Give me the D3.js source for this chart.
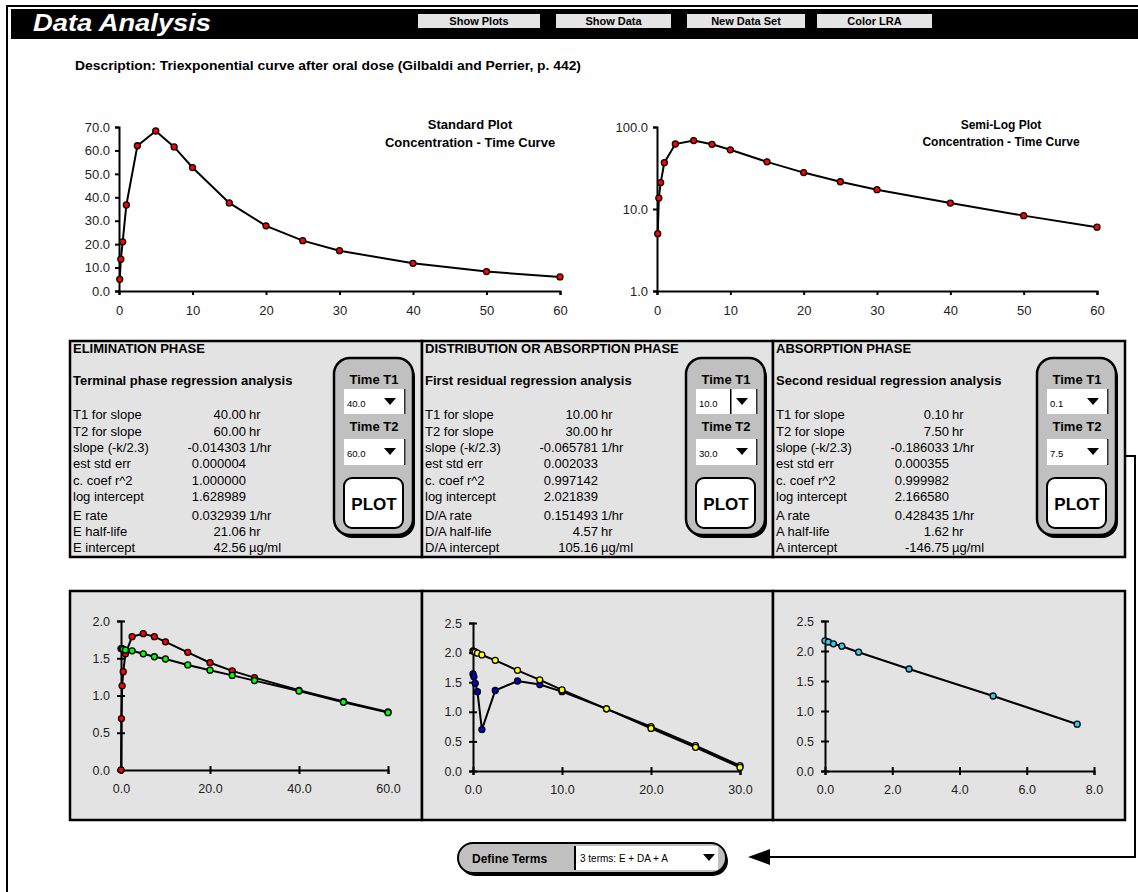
<!DOCTYPE html>
<html>
<head>
<meta charset="utf-8">
<script src="https://cdn.jsdelivr.net/npm/d3@7"></script>
<style>
  body { margin: 0; background: #fff; }
  text { font-family: Arial, "Liberation Sans", sans-serif; }
</style>
</head>
<body>
<script>
// sampling times (hr) and measured concentrations
var times = [0, 0.1, 0.25, 0.5, 1, 2.5, 5, 7.5, 10, 15, 20, 25, 30, 40, 50, 60];
var conc = [0, 5.0, 13.6, 21.0, 36.7, 62.0, 68.3, 61.5, 52.7, 37.6, 27.8, 21.5, 17.2, 11.8, 8.3, 6.0];

// log plots (bottom row)
var logConc = [0, 0.69, 1.13, 1.32, 1.56, 1.79, 1.83, 1.79, 1.72, 1.58, 1.44, 1.33, 1.24, 1.07, 0.92, 0.78];
var elimLine = [1.63, 1.63, 1.63, 1.62, 1.61, 1.60, 1.56, 1.52, 1.49, 1.41, 1.34, 1.27, 1.20, 1.06, 0.91, 0.77];

var distTimes = [0, 0.1, 0.25, 0.5, 1, 2.5, 5, 7.5, 10, 15, 20, 25, 30];
var distLine = [2.03, 2.02, 2.01, 1.99, 1.96, 1.87, 1.70, 1.54, 1.37, 1.05, 0.72, 0.40, 0.06];
var distResid = [1.64, 1.59, 1.48, 1.34, 0.70, 1.36, 1.52, 1.46, 1.34, 1.05, 0.75, 0.43, 0.09];

var absTimes = [0, 0.1, 0.25, 0.5, 1, 2.5, 5, 7.5];
var absResid = [2.17, 2.15, 2.12, 2.08, 1.98, 1.70, 1.25, 0.78];

// header buttons
var buttons = ["Show Plots", "Show Data", "New Data Set", "Color LRA"];

// regression panels
var rowLabels = ["T1 for slope", "T2 for slope", "slope (-k/2.3)", "est std err", "c. coef r^2", "log intercept"];
var panelTitles = ["ELIMINATION PHASE", "DISTRIBUTION OR ABSORPTION PHASE", "ABSORPTION PHASE"];
var panelSubtitles = ["Terminal phase regression analysis", "First residual regression analysis", "Second residual regression analysis"];
var panelPrefix = ["E", "D/A", "A"];
var elimValues = ["40.00", "60.00", "-0.014303", "0.000004", "1.000000", "1.628989", "0.032939", "21.06", "42.56"];
var distValues = ["10.00", "30.00", "-0.065781", "0.002033", "0.997142", "2.021839", "0.151493", "4.57", "105.16"];
var absValues = ["0.10", "7.50", "-0.186033", "0.000355", "0.999982", "2.166580", "0.428435", "1.62", "-146.75"];
var rowUnits = ["hr", "hr", "1/hr", "", "", "", "1/hr", "hr", "\u00b5g/ml"];
var t1Choices = ["40.0", "10.0", "0.1"];
var t2Choices = ["60.0", "30.0", "7.5"];

var svg = d3.select("body").append("svg")
    .attr("width", 1138)
    .attr("height", 892);

// ---- frame & header
svg.append("rect").attr("x", 6).attr("y", 5).attr("width", 1132).attr("height", 2).attr("fill", "#000");
svg.append("rect").attr("x", 6).attr("y", 5).attr("width", 2).attr("height", 887).attr("fill", "#000");
svg.append("rect").attr("x", 11).attr("y", 9).attr("width", 1127).attr("height", 30).attr("fill", "#000");
svg.append("text").attr("x", 33).attr("y", 31)
    .attr("fill", "#fff").attr("font-size", 24).attr("font-weight", "bold").attr("font-style", "italic")
    .attr("textLength", 178).attr("lengthAdjust", "spacingAndGlyphs")
    .text("Data Analysis");

var btnX = [418, 556, 687, 817];
var btnW = [122, 115, 118, 115];
buttons.forEach(function (b, i) {
    svg.append("rect").attr("x", btnX[i]).attr("y", 14).attr("width", btnW[i]).attr("height", 14).attr("fill", "#e4e4e4");
    svg.append("text").attr("x", btnX[i] + btnW[i] / 2).attr("y", 25)
        .attr("text-anchor", "middle").attr("font-size", 11).attr("font-weight", "bold")
        .text(b);
});

svg.append("text").attr("x", 75).attr("y", 70)
    .attr("font-size", 12).attr("font-weight", "bold")
    .attr("textLength", 506).attr("lengthAdjust", "spacingAndGlyphs")
    .text("Description:  Triexponential curve after oral dose (Gilbaldi and Perrier, p. 442)");

// ---- helpers
function styleAxis(g, size) {
    g.select(".domain").attr("stroke", "#000").attr("stroke-width", 2);
    g.selectAll(".tick line").attr("stroke", "#000").attr("stroke-width", 2);
    g.selectAll(".tick text").attr("font-size", size).attr("fill", "#222")
        .attr("font-family", "Arial, 'Liberation Sans', sans-serif");
}

function drawSeries(xs, ys, x, y, fill) {
    var pts = xs.map(function (t, i) { return [t, ys[i]]; });
    svg.append("path")
        .datum(pts)
        .attr("fill", "none")
        .attr("stroke", "#000")
        .attr("stroke-width", 2)
        .attr("d", d3.line().x(function (d) { return x(d[0]); }).y(function (d) { return y(d[1]); }));
    svg.append("g").selectAll("circle")
        .data(pts)
        .enter()
        .append("circle")
        .attr("cx", function (d) { return x(d[0]); })
        .attr("cy", function (d) { return y(d[1]); })
        .attr("r", 3)
        .attr("fill", typeof fill === "function" ? fill : function () { return fill; })
        .attr("stroke", "#000")
        .attr("stroke-width", 1.3);
}

// ---- top-left standard plot
var posT = times.filter(function (t, i) { return conc[i] > 0; });
var posC = conc.filter(function (c) { return c > 0; });

var x1 = d3.scaleLinear().domain([0, 60]).range([119, 560]);
var y1 = d3.scaleLinear().domain([0, 70]).range([291, 127]);
svg.append("g").attr("transform", "translate(0,291)")
    .call(d3.axisBottom(x1).tickValues([0, 10, 20, 30, 40, 50, 60]).tickFormat(d3.format("d")).tickSize(4).tickPadding(11))
    .call(styleAxis, 13);
svg.append("g").attr("transform", "translate(119,0)")
    .call(d3.axisLeft(y1).tickValues(d3.range(0, 71, 10)).tickFormat(d3.format(".1f")).tickSize(4).tickPadding(5))
    .call(styleAxis, 13);
drawSeries(posT, posC, x1, y1, "#ff0000");
svg.append("text").attr("x", 470).attr("y", 129).attr("text-anchor", "middle")
    .attr("font-size", 13).attr("font-weight", "bold").text("Standard Plot");
svg.append("text").attr("x", 470).attr("y", 147).attr("text-anchor", "middle")
    .attr("font-size", 13).attr("font-weight", "bold").text("Concentration - Time Curve");

// ---- top-right semi-log plot
var x2 = d3.scaleLinear().domain([0, 60]).range([657, 1097]);
var y2 = d3.scaleLog().domain([1, 100]).range([291, 127]);
svg.append("g").attr("transform", "translate(0,291)")
    .call(d3.axisBottom(x2).tickValues([0, 10, 20, 30, 40, 50, 60]).tickFormat(d3.format("d")).tickSize(4).tickPadding(11))
    .call(styleAxis, 13);
svg.append("g").attr("transform", "translate(657,0)")
    .call(d3.axisLeft(y2).tickValues([1, 10, 100]).tickFormat(d3.format(".1f")).tickSize(4).tickPadding(5))
    .call(styleAxis, 13);
drawSeries(posT, posC, x2, y2, "#ff0000");
svg.append("text").attr("x", 1001).attr("y", 129).attr("text-anchor", "middle")
    .attr("font-size", 12).attr("font-weight", "bold").text("Semi-Log Plot");
svg.append("text").attr("x", 1001).attr("y", 146).attr("text-anchor", "middle")
    .attr("font-size", 12).attr("font-weight", "bold").text("Concentration - Time Curve");

// ---- regression panels
var panelX = [70, 422, 773];
var panelW = [352, 351, 352];
var rowY = [419, 436, 452, 468, 485, 501, 520, 536, 552];
var allValues = [elimValues, distValues, absValues];

function triangle(cx, cy) {
    svg.append("polygon")
        .attr("points", [[cx - 6, cy - 3], [cx + 6, cy - 3], [cx, cy + 4]].join(" "))
        .attr("fill", "#000");
}

panelX.forEach(function (px, p) {
    svg.append("rect").attr("x", px).attr("y", 341).attr("width", panelW[p]).attr("height", 216)
        .attr("fill", "#e3e3e3").attr("stroke", "#000").attr("stroke-width", 2.5);
    svg.append("text").attr("x", px + 3).attr("y", 353).attr("font-size", 13).attr("font-weight", "bold")
        .text(panelTitles[p]);
    svg.append("text").attr("x", px + 3).attr("y", 385).attr("font-size", 13).attr("font-weight", "bold")
        .text(panelSubtitles[p]);
    var labels = rowLabels.concat([panelPrefix[p] + " rate", panelPrefix[p] + " half-life", panelPrefix[p] + " intercept"]);
    labels.forEach(function (l, r) {
        svg.append("text").attr("x", px + 3).attr("y", rowY[r]).attr("font-size", 13).text(l);
        svg.append("text").attr("x", px + 176).attr("y", rowY[r]).attr("font-size", 13)
            .attr("text-anchor", "end").text(allValues[p][r]);
        if (rowUnits[r]) {
            svg.append("text").attr("x", px + 179).attr("y", rowY[r]).attr("font-size", 13).text(rowUnits[r]);
        }
    });

    // control box
    var cx = px + 264;
    svg.append("rect").attr("x", cx + 2).attr("y", 361).attr("width", 79).attr("height", 177).attr("rx", 16)
        .attr("fill", "#000");
    svg.append("rect").attr("x", cx).attr("y", 358).attr("width", 79).attr("height", 177).attr("rx", 16)
        .attr("fill", "#c0c0c0").attr("stroke", "#000").attr("stroke-width", 2.5);
    svg.append("text").attr("x", cx + 40).attr("y", 384).attr("text-anchor", "middle")
        .attr("font-size", 13).attr("font-weight", "bold").text("Time T1");
    svg.append("rect").attr("x", cx + 10).attr("y", 389).attr("width", 60).attr("height", 25).attr("fill", "#fff");
    svg.append("rect").attr("x", cx + 70).attr("y", 389).attr("width", 1.5).attr("height", 25).attr("fill", "#333");
    svg.append("text").attr("x", cx + 13).attr("y", 407).attr("font-size", 9.5).text(t1Choices[p]);
    triangle(cx + 56, 401);
    if (p === 1) {
        svg.append("rect").attr("x", cx + 44).attr("y", 389).attr("width", 1.5).attr("height", 25).attr("fill", "#000");
    }
    svg.append("text").attr("x", cx + 40).attr("y", 431).attr("text-anchor", "middle")
        .attr("font-size", 13).attr("font-weight", "bold").text("Time T2");
    svg.append("rect").attr("x", cx + 10).attr("y", 439).attr("width", 60).attr("height", 26).attr("fill", "#fff");
    svg.append("rect").attr("x", cx + 70).attr("y", 439).attr("width", 1.5).attr("height", 26).attr("fill", "#333");
    svg.append("text").attr("x", cx + 13).attr("y", 457).attr("font-size", 9.5).text(t2Choices[p]);
    triangle(cx + 56, 451);
    svg.append("rect").attr("x", cx + 10).attr("y", 478).attr("width", 59).attr("height", 50).attr("rx", 8)
        .attr("fill", "#fff").attr("stroke", "#000").attr("stroke-width", 2);
    svg.append("text").attr("x", cx + 40).attr("y", 510).attr("text-anchor", "middle")
        .attr("font-size", 17).attr("font-weight", "bold").text("PLOT");
});

// ---- bottom log panels
panelX.forEach(function (px, p) {
    svg.append("rect").attr("x", px).attr("y", 591).attr("width", panelW[p]).attr("height", 229)
        .attr("fill", "#e3e3e3").attr("stroke", "#000").attr("stroke-width", 2.5);
});

function logAxes(x, y, xt, yt, y0, x0) {
    var gx = svg.append("g").attr("transform", "translate(0," + y0 + ")")
        .call(d3.axisBottom(x).tickValues(xt).tickFormat(d3.format(".1f")).tickSize(4).tickPadding(10))
        .call(styleAxis, 12.5);
    gx.selectAll(".tick line").attr("y1", -4);
    var gy = svg.append("g").attr("transform", "translate(" + x0 + ",0)")
        .call(d3.axisLeft(y).tickValues(yt).tickFormat(d3.format(".1f")).tickSize(4).tickPadding(7))
        .call(styleAxis, 12.5);
    gy.selectAll(".tick line").attr("x1", 4);
}

var xb1 = d3.scaleLinear().domain([0, 60]).range([121, 388]);
var yb1 = d3.scaleLinear().domain([0, 2]).range([770, 621]);
logAxes(xb1, yb1, [0, 20, 40, 60], [0, 0.5, 1, 1.5, 2], 770, 121);
drawSeries(times, logConc, xb1, yb1, "#ff0000");
drawSeries(times, elimLine, xb1, yb1, "#00ff00");

var xb2 = d3.scaleLinear().domain([0, 30]).range([473, 740]);
var yb2 = d3.scaleLinear().domain([0, 2.5]).range([771, 623]);
logAxes(xb2, yb2, [0, 10, 20, 30], [0, 0.5, 1, 1.5, 2, 2.5], 771, 473);
drawSeries(distTimes, distResid, xb2, yb2, function (d) { return d[0] <= 10 ? "#0000cc" : "#ffff00"; });
drawSeries(distTimes, distLine, xb2, yb2, "#ffff00");

var xb3 = d3.scaleLinear().domain([0, 8]).range([825, 1094]);
var yb3 = d3.scaleLinear().domain([0, 2.5]).range([771, 621]);
logAxes(xb3, yb3, [0, 2, 4, 6, 8], [0, 0.5, 1, 1.5, 2, 2.5], 771, 825);
drawSeries(absTimes, absResid, xb3, yb3, "#33ccee");

// ---- define terms control & arrow
svg.append("rect").attr("x", 460).attr("y", 846).attr("width", 268).attr("height", 30).attr("rx", 15).attr("fill", "#000");
svg.append("rect").attr("x", 458).attr("y", 843).attr("width", 268).attr("height", 30).attr("rx", 15)
    .attr("fill", "#c0c0c0").attr("stroke", "#000").attr("stroke-width", 2);
svg.append("rect").attr("x", 575).attr("y", 846).attr("width", 143).attr("height", 24).attr("fill", "#fff");
svg.append("rect").attr("x", 574).attr("y", 846).attr("width", 2).attr("height", 24).attr("fill", "#000");
svg.append("text").attr("x", 472).attr("y", 863).attr("font-size", 12).attr("font-weight", "bold").text("Define Terms");
svg.append("text").attr("x", 580).attr("y", 862).attr("font-size", 10).text("3 terms: E + DA + A");
triangle(709, 857);

svg.append("path")
    .attr("d", "M1126,456 H1135 V857 H768")
    .attr("fill", "none").attr("stroke", "#000").attr("stroke-width", 2);
svg.append("polygon").attr("points", "748,857 770,849 770,865").attr("fill", "#000");
</script>
</body>
</html>
